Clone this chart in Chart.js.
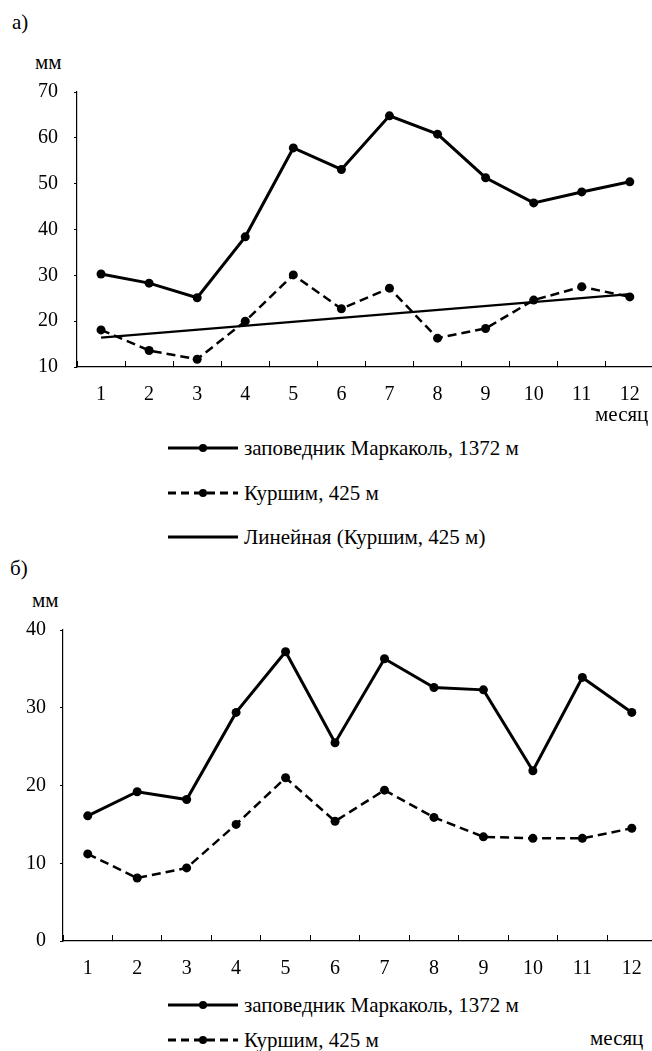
<!DOCTYPE html>
<html>
<head>
<meta charset="utf-8">
<script src="https://cdn.jsdelivr.net/npm/chart.js@4"></script>
<style>
  html, body { margin: 0; background: #fff; overflow: hidden; }
  body { font-family: 'Liberation Serif', serif; color: #000; }
  #page { position: relative; width: 652px; height: 1051px; overflow: hidden; }
  .abs { position: absolute; white-space: nowrap; font-size: 21px; line-height: 24px; }
  .box { position: absolute; }
  .leg { position: absolute; font-size: 21px; line-height: 24px; display: flex; align-items: center; white-space: nowrap; }
  .leg svg { margin-right: 6px; }
</style>
</head>
<body>
<div id="page">
  <div class="abs" style="left:12px; top:10px;">а)</div>
  <div class="abs" style="left:35px; top:50px;">мм</div>
  <div class="box" style="left:0; top:64px; width:662px; height:346px;"><canvas id="chartA"></canvas></div>
  <div class="abs" style="left:595px; top:402px;">месяц</div>
  <div id="legendA"></div>

  <div class="abs" style="left:10px; top:556px;">б)</div>
  <div class="abs" style="left:32px; top:588px;">мм</div>
  <div class="box" style="left:0; top:604px; width:664px; height:376px;"><canvas id="chartB"></canvas></div>
  <div class="abs" style="left:590px; top:1026px;">месяц</div>
  <div id="legendB"></div>
</div>
<script>
// months
const months = ['1', '2', '3', '4', '5', '6', '7', '8', '9', '10', '11', '12'];

// а) values, mm
const markakolA = [30.3, 28.3, 25.1, 38.4, 57.8, 53.1, 64.8, 60.8, 51.3, 45.8, 48.2, 50.4];
const kurshimA = [18.1, 13.6, 11.7, 20.0, 30.1, 22.7, 27.2, 16.3, 18.4, 24.6, 27.5, 25.3];
// linear trend of Куршим, read at month 1 and month 12
const trendA = [16.4, null, null, null, null, null, null, null, null, null, null, 25.9];

// б) values, mm
const markakolB = [16.1, 19.2, 18.2, 29.4, 37.2, 25.5, 36.3, 32.6, 32.3, 21.9, 33.9, 29.4];
const kurshimB = [11.2, 8.1, 9.4, 15.0, 21.0, 15.4, 19.4, 15.9, 13.4, 13.2, 13.2, 14.5];

const labelMarkakol = 'заповедник Маркаколь, 1372 м';
const labelKurshim = 'Куршим, 425 м';
const labelTrend = 'Линейная (Куршим, 425 м)';

Chart.defaults.font.family = "'Liberation Serif', serif";
Chart.defaults.color = '#000';
Chart.defaults.animation = false;

function lineSet(label, data, dashed) {
    return {
        label: label,
        data: data,
        borderColor: '#000',
        backgroundColor: '#000',
        borderWidth: dashed ? 2.5 : 3,
        borderDash: dashed ? [9, 5] : [],
        pointRadius: 4.5,
        pointBorderWidth: 0,
        pointBackgroundColor: '#000',
        tension: 0,
    };
}

function makeChart(id, datasets, yMin, yMax, opts) {
    return new Chart(document.getElementById(id), {
        type: 'line',
        data: { labels: months, datasets: datasets },
        options: {
            responsive: true,
            maintainAspectRatio: false,
            layout: { padding: { top: opts.padTop, right: 0, left: 0, bottom: 0 } },
            plugins: { legend: { display: false }, tooltip: { enabled: false } },
            scales: {
                x: {
                    offset: true,
                    grid: { offset: true, drawOnChartArea: false, drawTicks: true, tickLength: -6, color: '#000', lineWidth: 1 },
                    border: { color: '#000', width: 1.2 },
                    ticks: { font: { size: 20 }, padding: 22, maxRotation: 0, autoSkip: false },
                    afterFit: s => { s.height = opts.xHeight; },
                },
                y: {
                    min: yMin,
                    max: yMax,
                    ticks: { stepSize: 10, font: { size: 20 }, padding: opts.yPad },
                    grid: { drawOnChartArea: false, drawTicks: true, tickLength: 3, color: '#000' },
                    border: { color: '#000', width: 1.2 },
                    afterFit: s => { s.width = opts.yWidth; },
                },
            },
        },
    });
}

makeChart('chartA', [
    lineSet(labelMarkakol, markakolA, false),
    lineSet(labelKurshim, kurshimA, true),
    { label: labelTrend, data: trendA, spanGaps: true, borderColor: '#000', borderWidth: 2.2, pointRadius: 0 },
], 10, 70, { padTop: 12, xHeight: 43, yWidth: 77, yPad: 16 });

makeChart('chartB', [
    lineSet(labelMarkakol, markakolB, false),
    lineSet(labelKurshim, kurshimB, true),
], 0, 40, { padTop: 10, xHeight: 39, yWidth: 63, yPad: 14 });

// legends
function legendItem(parent, y, text, kind) {
    const d = document.createElement('div');
    d.className = 'leg';
    d.style.left = '168px';
    d.style.top = (y - 12) + 'px';
    let line = '';
    if (kind === 'solid') line = '<line x1="0" y1="12" x2="70" y2="12" stroke="#000" stroke-width="3"/><circle cx="35" cy="12" r="4" fill="#000"/>';
    if (kind === 'dash') line = '<line x1="0" y1="12" x2="70" y2="12" stroke="#000" stroke-width="3" stroke-dasharray="8,5"/><circle cx="35" cy="12" r="4" fill="#000"/>';
    if (kind === 'trend') line = '<line x1="0" y1="12" x2="70" y2="12" stroke="#000" stroke-width="3"/>';
    d.innerHTML = '<svg width="70" height="24">' + line + '</svg><span>' + text + '</span>';
    document.getElementById(parent).appendChild(d);
}
legendItem('legendA', 448, labelMarkakol, 'solid');
legendItem('legendA', 493, labelKurshim, 'dash');
legendItem('legendA', 537, labelTrend, 'trend');
legendItem('legendB', 1005, labelMarkakol, 'solid');
legendItem('legendB', 1040, labelKurshim, 'dash');
</script>
</body>
</html>
